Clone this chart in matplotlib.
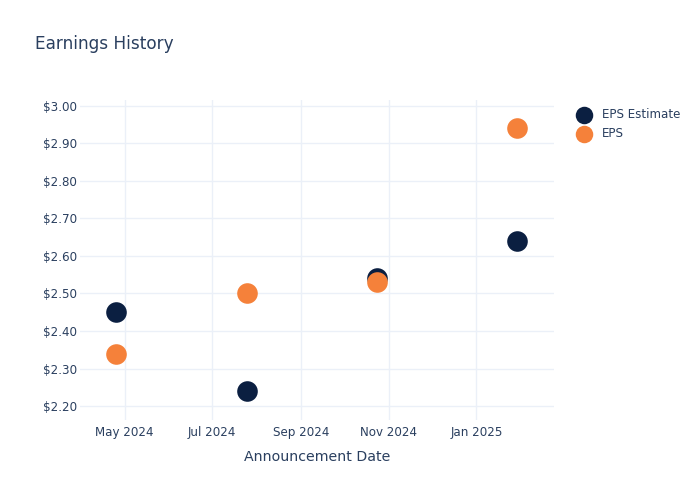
import matplotlib
matplotlib.use("Agg")
import matplotlib.pyplot as plt
import matplotlib.dates as mdates
import pandas as pd

dates = pd.to_datetime(["2024-04-25", "2024-07-25", "2024-10-24", "2025-01-29"])
eps_estimate = [2.45, 2.24, 2.54, 2.64]
eps_actual = [2.34, 2.50, 2.53, 2.94]

navy = "#0b1f41"
orange = "#f5813a"
text_color = "#2a3f5f"
grid_color = "#ebf0f8"

plt.rcParams["font.family"] = ["DejaVu Sans"]

fig = plt.figure(figsize=(7, 5), dpi=100)
ax = fig.add_axes([80 / 700, 80 / 500, 474 / 700, 320 / 500])

ax.scatter(dates, eps_estimate, s=220, color=navy, label="EPS Estimate", zorder=3, linewidths=0)
ax.scatter(dates, eps_actual, s=220, color=orange, label="EPS", zorder=4, linewidths=0)

ax.set_xlim(pd.Timestamp("2024-03-31"), pd.Timestamp("2025-02-24"))
ax.set_ylim(2.163, 3.015)

ax.xaxis.set_major_locator(mdates.MonthLocator(bymonth=[1, 3, 5, 7, 9, 11]))
ax.xaxis.set_major_formatter(mdates.DateFormatter("%b %Y"))
ax.set_yticks([2.2, 2.3, 2.4, 2.5, 2.6, 2.7, 2.8, 2.9, 3.0])
ax.yaxis.set_major_formatter(plt.FuncFormatter(lambda v, p: f"${v:.2f}"))

ax.grid(True, color=grid_color, linewidth=1)
ax.set_axisbelow(True)
for s in ax.spines.values():
    s.set_visible(False)
ax.tick_params(axis="both", length=0, labelsize=8.6, labelcolor=text_color)
ax.tick_params(axis="y", pad=2)
ax.tick_params(axis="x", pad=4)

ax.set_xlabel("Announcement Date", fontsize=10.2, color=text_color, labelpad=8)

fig.text(35 / 700, 1 - 44 / 500, "Earnings History", fontsize=12.15, color=text_color, va="center")

fig.legend(loc="upper left", bbox_to_anchor=(567 / 700, 1 - 103 / 500), frameon=False,
           fontsize=8.6, labelcolor=text_color, handletextpad=0.5, labelspacing=0.55,
           markerscale=0.85, borderaxespad=0)

fig.savefig("out.png", dpi=100)
